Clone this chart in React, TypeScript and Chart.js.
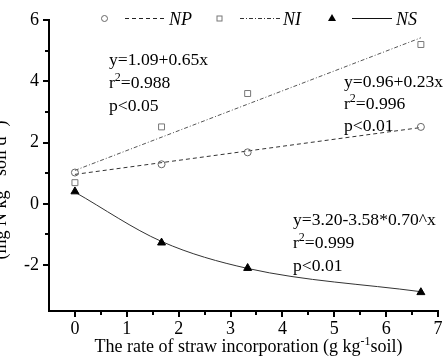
import React, { useEffect, useRef } from "react";
import { Chart, registerables } from "chart.js";

Chart.register(...registerables);

// ---- data ----
const rates = [0, 1.67, 3.33, 6.67];
const npValues = [1.02, 1.29, 1.68, 2.51];
const niValues = [0.69, 2.51, 3.6, 5.2];
const nsValues = [0.4, -1.27, -2.1, -2.89];

// fitted lines
const fitX = [0, 6.67];
const npFit = [0.96, 2.49];
const niFit = [1.09, 5.42];
const nsFit = [0.38, -1.23, -2.11, -2.87];

const xTickLabels = ["0", "1", "2", "3", "4", "5", "6", "7"];
const yTickLabels = ["-2", "0", "2", "4", "6"];

const niStats = ["y=1.09+0.65x", "r^{2}=0.988", "p<0.05"];
const npStats = ["y=0.96+0.23x", "r^{2}=0.996", "p<0.01"];
const nsStats = ["y=3.20-3.58*0.70^x", "r^{2}=0.999", "p<0.01"];

const xTitle = "The rate of straw incorporation (g kg^{-1}soil)";
const yTitle = "(mg N kg^{-1} soil d^{-1})";

const FONT = '"Liberation Serif", "Times New Roman", serif';
const FS = 18;

function parseRich(s: string) {
  const parts: { t: string; sup: boolean }[] = [];
  const re = /\^\{([^}]*)\}/g;
  let last = 0;
  let m: RegExpExecArray | null;
  while ((m = re.exec(s))) {
    if (m.index > last) parts.push({ t: s.slice(last, m.index), sup: false });
    parts.push({ t: m[1], sup: true });
    last = m.index + m[0].length;
  }
  if (last < s.length) parts.push({ t: s.slice(last), sup: false });
  return parts;
}

function richWidth(ctx: CanvasRenderingContext2D, s: string, fs = FS) {
  let w = 0;
  for (const p of parseRich(s)) {
    ctx.font = `${p.sup ? 12 : fs}px ${FONT}`;
    w += ctx.measureText(p.t).width;
  }
  return w;
}

function drawRich(ctx: CanvasRenderingContext2D, s: string, x: number, y: number, fs = FS) {
  let cx = x;
  ctx.textAlign = "left";
  ctx.textBaseline = "alphabetic";
  for (const p of parseRich(s)) {
    ctx.font = `${p.sup ? 12 : fs}px ${FONT}`;
    ctx.fillText(p.t, cx, p.sup ? y - 7 : y);
    cx += ctx.measureText(p.t).width;
  }
}

const overlay = {
  id: "overlay",
  afterDraw(chart: any) {
    const ctx: CanvasRenderingContext2D = chart.ctx;
    const xs = chart.scales.x;
    const ys = chart.scales.y;
    const area = chart.chartArea;
    ctx.save();
    // ticks
    ctx.strokeStyle = "#000";
    ctx.lineWidth = 2;
    xs.ticks.forEach((t: any) => {
      if (t.value < 0) return;
      const px = Math.round(xs.getPixelForValue(t.value));
      const len = Number.isInteger(t.value) ? 5 : 3;
      ctx.beginPath();
      ctx.moveTo(px, area.bottom);
      ctx.lineTo(px, area.bottom + 1 + len);
      ctx.stroke();
    });
    ys.ticks.forEach((t: any) => {
      if (t.value < -3.2) return;
      const py = Math.round(ys.getPixelForValue(t.value));
      const len = Math.round(t.value) % 2 === 0 ? 5 : 3;
      ctx.beginPath();
      ctx.moveTo(area.left, py);
      ctx.lineTo(area.left - 1 - len, py);
      ctx.stroke();
    });

    ctx.fillStyle = "#000";
    // annotations
    const AF = 17.6;
    niStats.forEach((s, i) => drawRich(ctx, s, 109, 65 + i * 23, AF));
    npStats.forEach((s, i) => drawRich(ctx, s, 344, 87 + i * 22, AF));
    nsStats.forEach((s, i) => drawRich(ctx, s, 293, 225 + i * 23, AF));

    // x title
    const xw = richWidth(ctx, xTitle);
    drawRich(ctx, xTitle, (area.left + area.right) / 2 - xw / 2 + 5, 352);

    // y title (rotated, partially clipped)
    ctx.save();
    ctx.translate(5.5, 190);
    ctx.rotate(-Math.PI / 2);
    const yw = richWidth(ctx, yTitle);
    drawRich(ctx, yTitle, -yw / 2, 0);
    ctx.restore();

    // legend
    const ly = 18.5;
    ctx.lineWidth = 1;
    // NP
    ctx.strokeStyle = "#666";
    ctx.beginPath();
    ctx.arc(104.5, ly, 3, 0, Math.PI * 2);
    ctx.stroke();
    ctx.strokeStyle = "#222";
    ctx.setLineDash([4, 3]);
    ctx.beginPath();
    ctx.moveTo(125, ly);
    ctx.lineTo(166, ly);
    ctx.stroke();
    // NI
    ctx.setLineDash([]);
    ctx.strokeStyle = "#777";
    ctx.strokeRect(217, 16, 5, 5);
    ctx.strokeStyle = "#333";
    ctx.setLineDash([4, 2, 1, 2]);
    ctx.beginPath();
    ctx.moveTo(240, ly);
    ctx.lineTo(280, ly);
    ctx.stroke();
    // NS
    ctx.setLineDash([]);
    ctx.fillStyle = "#000";
    ctx.beginPath();
    ctx.moveTo(332, 14);
    ctx.lineTo(336, 21);
    ctx.lineTo(328, 21);
    ctx.closePath();
    ctx.fill();
    ctx.strokeStyle = "#111";
    ctx.beginPath();
    ctx.moveTo(352, ly);
    ctx.lineTo(392, ly);
    ctx.stroke();

    ctx.font = `italic ${FS}px ${FONT}`;
    ctx.textAlign = "left";
    ctx.textBaseline = "alphabetic";
    ctx.fillText("NP", 169, 25);
    ctx.fillText("NI", 283, 25);
    ctx.fillText("NS", 396, 25);
    ctx.restore();
  },
};

export default function App() {
  const ref = useRef<HTMLCanvasElement>(null);

  useEffect(() => {
    if (!ref.current) return;
    const pts = (ys: number[]) => rates.map((x, i) => ({ x, y: ys[i] }));
    const fit = (ys: number[]) => fitX.map((x, i) => ({ x, y: ys[i] }));

    const chart = new Chart(ref.current, {
      type: "scatter",
      data: {
        datasets: [
          {
            label: "NS",
            data: pts(nsValues),
            pointStyle: "triangle",
            pointRadius: 4.6,
            backgroundColor: "#000",
            borderColor: "#000",
            borderWidth: 1,
            showLine: false,
          },
          {
            label: "NI",
            data: pts(niValues),
            pointStyle: "rect",
            pointRadius: 4.2,
            backgroundColor: "rgba(255,255,255,0)",
            borderColor: "#777",
            borderWidth: 1,
            showLine: false,
          },
          {
            label: "NP",
            data: pts(npValues),
            pointStyle: "circle",
            pointRadius: 3.5,
            backgroundColor: "rgba(255,255,255,0)",
            borderColor: "#666",
            borderWidth: 1,
            showLine: false,
          },
          {
            label: "NP fit",
            data: fit(npFit),
            showLine: true,
            pointRadius: 0,
            borderColor: "#333",
            borderWidth: 1,
            borderDash: [4, 3],
          },
          {
            label: "NI fit",
            data: fit(niFit),
            showLine: true,
            pointRadius: 0,
            borderColor: "#555",
            borderWidth: 1,
            borderDash: [4, 2, 1, 2],
          },
          {
            label: "NS fit",
            data: pts(nsFit),
            showLine: true,
            pointRadius: 0,
            borderColor: "#333",
            borderWidth: 1,
            cubicInterpolationMode: "monotone",
          } as any,
        ],
      },
      options: {
        responsive: false,
        animation: false,
        layout: { padding: { top: 20, right: 8, left: 0, bottom: 0 } },
        plugins: { legend: { display: false }, tooltip: { enabled: false } },
        scales: {
          x: {
            type: "linear",
            min: -0.5,
            max: 7,
            border: { display: true, color: "#000", width: 2 },
            grid: { drawOnChartArea: false, color: "rgba(0,0,0,0)", tickLength: 5 },
            ticks: {
              stepSize: 0.5,
              autoSkip: false,
              maxRotation: 0,
              padding: 2,
              color: "#000",
              font: { family: FONT, size: FS },
              callback: (v: any) => (xTickLabels.includes(String(v)) ? String(v) : ""),
            },
            afterFit: (s: any) => {
              s.height = 50;
            },
          },
          y: {
            type: "linear",
            min: -3.5,
            max: 6,
            border: { display: true, color: "#000", width: 2 },
            grid: { drawOnChartArea: false, color: "rgba(0,0,0,0)", tickLength: 6 },
            ticks: {
              stepSize: 1,
              autoSkip: false,
              padding: 4,
              color: "#000",
              font: { family: FONT, size: FS },
              callback: (v: any) => (yTickLabels.includes(String(v)) ? String(v) : ""),
            },
            afterFit: (s: any) => {
              s.width = 49;
            },
          },
        },
      },
      plugins: [overlay],
    });
    return () => chart.destroy();
  }, []);

  return (
    <div style={{ position: "fixed", left: 0, top: 0, width: 446, height: 361, background: "#fff" }}>
      <canvas ref={ref} width={446} height={361} style={{ display: "block" }} />
    </div>
  );
}
